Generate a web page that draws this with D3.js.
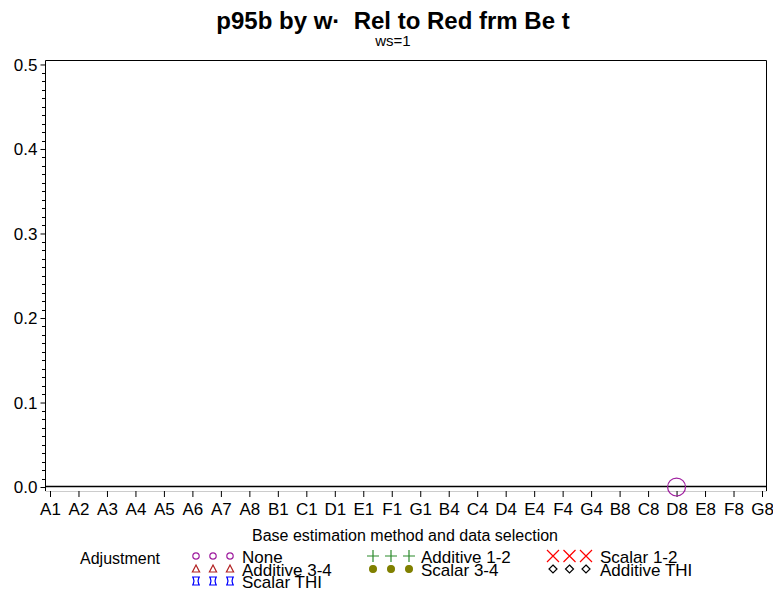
<!DOCTYPE html>
<html>
<head>
<meta charset="utf-8">
<script src="https://cdn.jsdelivr.net/npm/d3@7"></script>
<style>
  body { margin: 0; background: #fff; }
  text { font-family: "Liberation Sans", Arial, sans-serif; fill: #000; }
</style>
</head>
<body>
<div id="chart"></div>
<script>
// categories along the x axis
const categories = ['A1', 'A2', 'A3', 'A4', 'A5', 'A6', 'A7', 'A8', 'B1', 'C1', 'D1', 'E1', 'F1',
  'G1', 'B4', 'C4', 'D4', 'E4', 'F4', 'G4', 'B8', 'C8', 'D8', 'E8', 'F8', 'G8'];

// y ticks
const yMajorTicks = [0, 0.1, 0.2, 0.3, 0.4, 0.5];

// series values as [category, value]; only one point is plotted
const noneValues = [['D8', 0]];
const additive12Values = [];
const scalar12Values = [];
const additive34Values = [];
const scalar34Values = [];
const additiveTHIValues = [];
const scalarTHIValues = [];

const seriesNames = ['None', 'Additive 1-2', 'Scalar 1-2', 'Additive 3-4', 'Scalar 3-4', 'Additive THI', 'Scalar THI'];

const width = 773, height = 591;

const svg = d3.select('#chart').append('svg')
  .attr('width', width)
  .attr('height', height);

const x = d3.scalePoint()
  .domain(categories)
  .range([50, 762]);

const y = d3.scaleLinear()
  .domain([-0.0047, 0.5053])
  .range([491, 60]);

// symbols per series
const symbolDefs = {
  'None': {color: '#a020a0', draw: (g, s) => g.append('circle').attr('r', 3.2 * s).attr('fill', 'none')},
  'Additive 1-2': {color: '#2b8a2b', draw: (g, s) => g.append('path').attr('d', `M${-6*s},0H${6*s}M0,${-6*s}V${6*s}`).attr('fill', 'none')},
  'Scalar 1-2': {color: '#ff0000', draw: (g, s) => g.append('path').attr('d', `M${-6*s},${-6*s}L${6*s},${6*s}M${-6*s},${6*s}L${6*s},${-6*s}`).attr('fill', 'none')},
  'Additive 3-4': {color: '#b22222', draw: (g, s) => g.append('path').attr('d', `M0,${-4*s}L${3.6*s},${3*s}H${-3.6*s}Z`).attr('fill', 'none')},
  'Scalar 3-4': {color: '#808000', draw: (g, s) => g.append('circle').attr('r', 3.4 * s).attr('fill', '#808000')},
  'Additive THI': {color: '#000000', draw: (g, s) => g.append('path').attr('d', `M0,${-4*s}L${4*s},0L0,${4*s}L${-4*s},0Z`).attr('fill', 'none')},
  'Scalar THI': {color: '#0000ff', draw: (g, s) => g.append('path').attr('d', `M${-4*s},${-4*s}H${4*s}M${-3*s},${-4*s}L${-2*s},0L${-3*s},${4*s}M${3*s},${-4*s}L${2*s},0L${3*s},${4*s}M${-4*s},${4*s}H${4*s}`).attr('fill', 'none')}
};

// frame
svg.append('path')
  .attr('d', 'M45.5,491.5H766.5')
  .attr('fill', 'none').attr('stroke', '#ccc');
svg.append('path')
  .attr('d', 'M45.5,491V60.5H766.5V491')
  .attr('fill', 'none').attr('stroke', '#000');

// zero reference line
svg.append('line')
  .attr('x1', 45).attr('x2', 766)
  .attr('y1', Math.round(y(0)) - 0.5).attr('y2', Math.round(y(0)) - 0.5)
  .attr('stroke', '#000').attr('stroke-width', 1.3);

// y axis
const yAxis = d3.axisLeft(y).tickValues(yMajorTicks).tickFormat(d3.format('.1f')).tickSize(5).tickPadding(3);
const gy = svg.append('g').attr('transform', 'translate(45.5,0)').call(yAxis);
gy.select('.domain').remove();
gy.selectAll('text').style('font-size', '17px').attr('dy', '0.35em');

const minorTicks = d3.range(1, 51).filter(i => i % 10 !== 0).map(i => i / 100);
svg.append('g').selectAll('line').data(minorTicks).enter().append('line')
  .attr('x1', 42).attr('x2', 45)
  .attr('y1', d => Math.round(y(d)) + 0.5).attr('y2', d => Math.round(y(d)) + 0.5)
  .attr('stroke', '#000');

// x axis
const xAxis = d3.axisBottom(x).tickSize(6).tickPadding(6);
const gx = svg.append('g').attr('transform', 'translate(0,491)').call(xAxis);
gx.select('.domain').remove();
gx.selectAll('text').style('font-size', '17px');

// points
const seriesData = {
  'None': noneValues,
  'Additive 1-2': additive12Values,
  'Scalar 1-2': scalar12Values,
  'Additive 3-4': additive34Values,
  'Scalar 3-4': scalar34Values,
  'Additive THI': additiveTHIValues,
  'Scalar THI': scalarTHIValues
};
seriesNames.forEach(name => {
  const def = symbolDefs[name];
  seriesData[name].forEach(([c, v]) => {
    const g = svg.append('g')
      .attr('transform', `translate(${x(c)},${y(v)})`)
      .attr('stroke', def.color).attr('stroke-width', 1.2);
    def.draw(g, 2.8);
  });
});

// titles
svg.append('text')
  .attr('x', 393).attr('y', 29)
  .attr('text-anchor', 'middle')
  .style('font-size', '24px').style('font-weight', 'bold')
  .style('white-space', 'pre')
  .text('p95b by w\u00B7  Rel to Red frm Be t');
svg.append('text')
  .attr('x', 393).attr('y', 46)
  .attr('text-anchor', 'middle')
  .style('font-size', '15px')
  .text('ws=1');

svg.append('text')
  .attr('x', 405).attr('y', 541)
  .attr('text-anchor', 'middle')
  .style('font-size', '16px')
  .text('Base estimation method and data selection');

// legend
svg.append('text')
  .attr('x', 80).attr('y', 564)
  .style('font-size', '16px')
  .text('Adjustment');

const legendLayout = [
  {name: 'None', sx: 196, lx: 242, y: 556},
  {name: 'Additive 3-4', sx: 196, lx: 242, y: 569},
  {name: 'Scalar THI', sx: 196, lx: 242, y: 581},
  {name: 'Additive 1-2', sx: 373, lx: 421, y: 556},
  {name: 'Scalar 3-4', sx: 373, lx: 421, y: 569},
  {name: 'Scalar 1-2', sx: 553, lx: 600, y: 556},
  {name: 'Additive THI', sx: 553, lx: 600, y: 569}
];
const symSteps = {'None': 17, 'Additive 3-4': 17, 'Scalar THI': 17, 'Additive 1-2': 18, 'Scalar 3-4': 18, 'Scalar 1-2': 16.5, 'Additive THI': 16.5};
legendLayout.forEach(item => {
  const def = symbolDefs[item.name];
  [0, 1, 2].forEach(i => {
    const g = svg.append('g')
      .attr('transform', `translate(${item.sx + i * symSteps[item.name]},${item.y})`)
      .attr('stroke', def.color).attr('stroke-width', 1.2);
    def.draw(g, 1);
  });
  svg.append('text')
    .attr('x', item.lx).attr('y', item.y + 7)
    .style('font-size', '17px')
    .text(item.name);
});
</script>
</body>
</html>
